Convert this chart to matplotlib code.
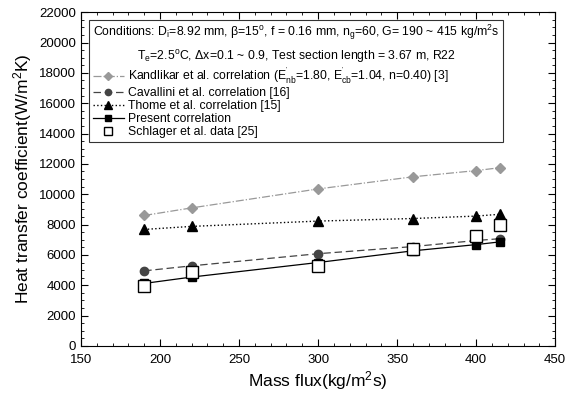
import numpy as np
import matplotlib
matplotlib.use("Agg")
import matplotlib.pyplot as plt
from matplotlib.ticker import MultipleLocator

plt.rcParams['font.family'] = ['Liberation Sans', 'DejaVu Sans']
plt.rcParams['mathtext.fontset'] = 'custom'
plt.rcParams['mathtext.rm'] = 'Liberation Sans'
plt.rcParams['mathtext.it'] = 'Liberation Sans'

G = [190, 220, 300, 360, 400, 415]
kandlikar = [8600, 9100, 10350, 11150, 11560, 11750]
cavallini = [4950, 5280, 6080, 6550, 6950, 7070]
thome = [7680, 7880, 8230, 8400, 8560, 8680]
present = [4120, 4540, 5500, 6270, 6680, 6860]
schlager = [3960, 4880, 5290, 6390, 7240, 7990]

labels = [r"Kandlikar et al. correlation (E$^{'}_{nb}$=1.80, E$^{'}_{cb}$=1.04, n=0.40) [3]",
          "Cavallini et al. correlation [16]",
          "Thome et al. correlation [15]",
          "Present correlation",
          "Schlager et al. data [25]"]

fig = plt.figure(figsize=(5.66, 3.94), dpi=100)
ax = fig.add_axes([0.143, 0.122, 0.838, 0.847])

ax.plot(G, kandlikar, color='#999999', ls='-.', lw=0.9, marker='D', ms=5.5, label=labels[0])
ax.plot(G, cavallini, color='#444444', ls=(0, (6, 3)), lw=0.9, marker='o', ms=6, label=labels[1])
ax.plot(G, thome, color='black', ls=':', lw=1.0, marker='^', ms=7, label=labels[2])
ax.plot(G, present, color='black', ls='-', lw=0.9, marker='s', ms=6, label=labels[3])
ax.plot(G, schlager, color='black', ls='none', marker='s', ms=8, mfc='white', mew=1.0, label=labels[4])

ax.set_xlim(150, 450)
ax.set_ylim(0, 22000)
ax.xaxis.set_major_locator(MultipleLocator(50))
ax.xaxis.set_minor_locator(MultipleLocator(10))
ax.yaxis.set_major_locator(MultipleLocator(2000))
ax.yaxis.set_minor_locator(MultipleLocator(500))
ax.tick_params(which='both', direction='in', top=True, right=True, labelsize=9.5)
ax.tick_params(which='major', length=5)
ax.tick_params(which='minor', length=2.5)
ax.tick_params(axis='x', which='major', pad=6)

ax.set_xlabel(r"Mass flux(kg/m$^2$s)", fontsize=12.5, labelpad=2)
ax.set_ylabel(r"Heat transfer coefficient(W/m$^2$K)", fontsize=12.5, labelpad=4)

title = (r"Conditions: D$_i$=8.92 mm, $\beta$=15$^o$, f = 0.16 mm, n$_g$=60, G= 190 ~ 415 kg/m$^2$s" "\n"
         r"T$_e$=2.5$^o$C, $\Delta$x=0.1 ~ 0.9, Test section length = 3.67 m, R22")
leg = ax.legend(loc='upper left', bbox_to_anchor=(0.018, 0.978), borderaxespad=0,
                title=title, fontsize=8.8, title_fontsize=8.8, frameon=True,
                fancybox=False, edgecolor='black', handlelength=2.5, handletextpad=0.35,
                labelspacing=0.08, borderpad=0.3, alignment='left', markerscale=0.75)
leg.get_frame().set_linewidth(0.8)
leg.get_title().set_multialignment('center')
leg.get_title().set_linespacing(1.45)

fig.savefig("out.png", dpi=100)
